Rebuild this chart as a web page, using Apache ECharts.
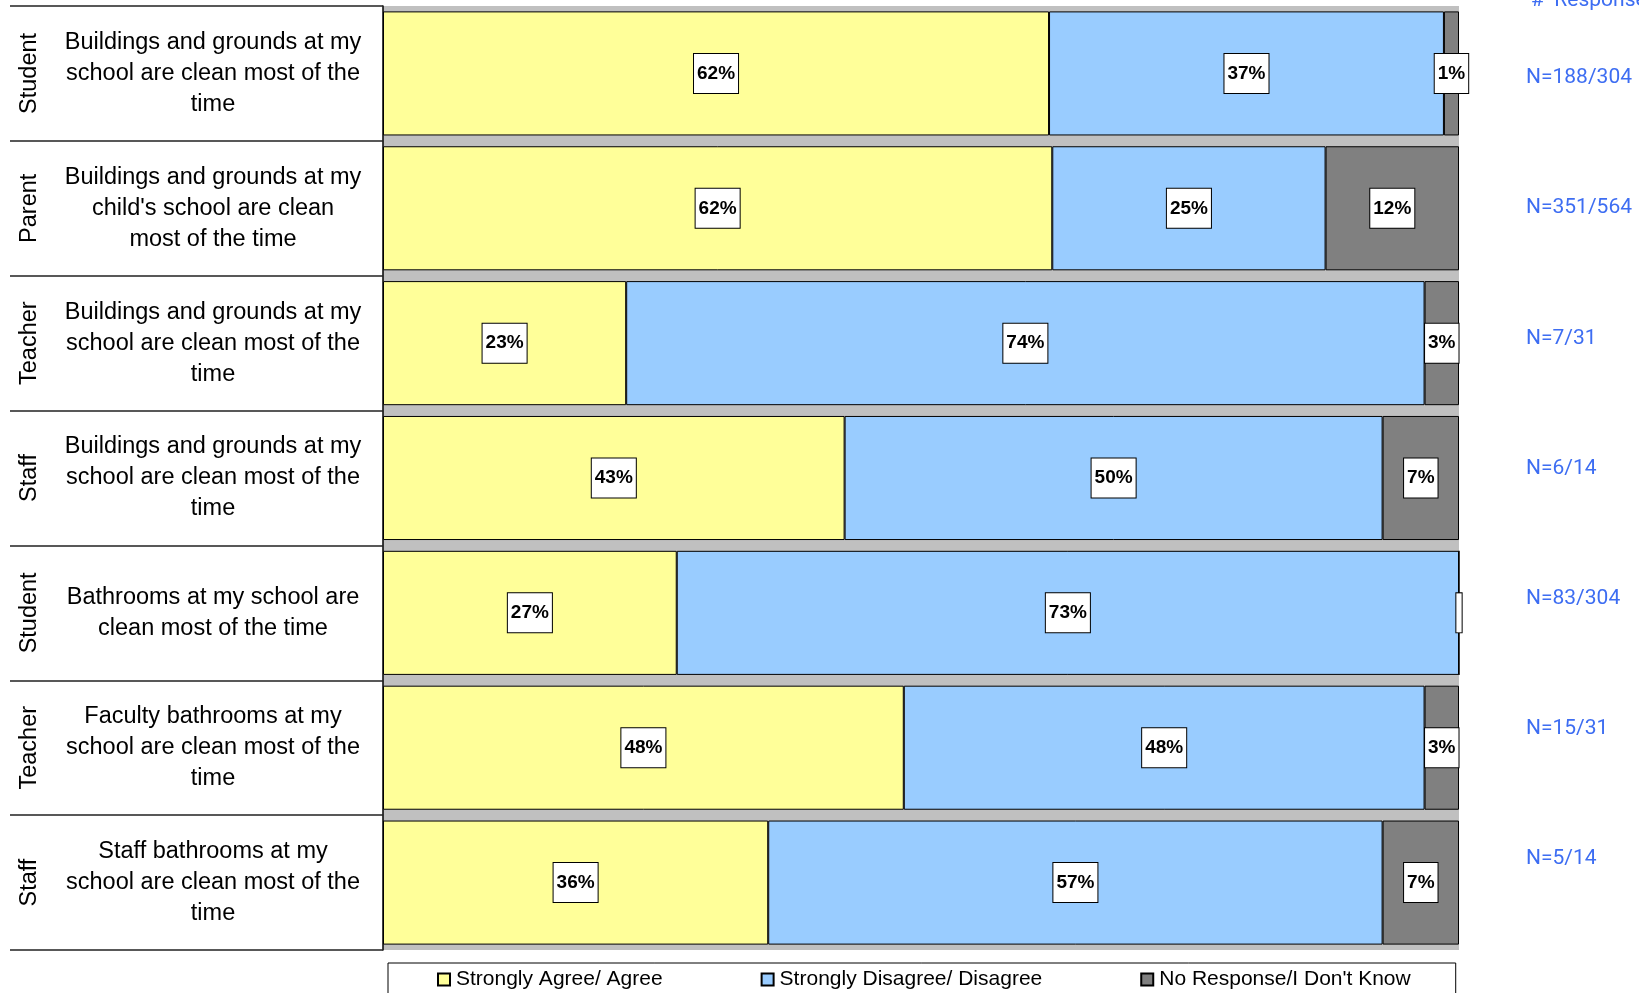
<!DOCTYPE html>
<html>
<head>
<meta charset="utf-8">
<script src="https://cdn.jsdelivr.net/npm/echarts@6/dist/echarts.min.js"></script>
<style>html,body{margin:0;padding:0;background:#fff;}#c{width:1639px;height:993px;}</style>
</head>
<body>
<div id="c"></div>
<script>
const roles = ['Student','Parent','Teacher','Staff','Student','Teacher','Staff'];
const questions = [
  'Buildings and grounds at my\nschool are clean most of the\ntime',
  "Buildings and grounds at my\nchild's school are clean\nmost of the time",
  'Buildings and grounds at my\nschool are clean most of the\ntime',
  'Buildings and grounds at my\nschool are clean most of the\ntime',
  'Bathrooms at my school are\nclean most of the time',
  'Faculty bathrooms at my\nschool are clean most of the\ntime',
  'Staff bathrooms at my\nschool are clean most of the\ntime'
];
const responses = ['N=188/304','N=351/564','N=7/31','N=6/14','N=83/304','N=15/31','N=5/14'];
const seriesNames = ['Strongly Agree/ Agree','Strongly Disagree/ Disagree',"No Response/I Don't Know"];
const agree    = [61.9, 62.2, 22.6, 42.9, 27.3, 48.4, 35.8];
const disagree = [36.7, 25.4, 74.2, 50.0, 72.7, 48.4, 57.1];
const noResp   = [1.4, 12.4, 3.2, 7.1, 0, 3.2, 7.1];
const colors = ['#ffff99','#99ccff','#808080'];

const ids = questions.map((q,i)=>'r'+i);
const blue = '#3d6df2';
const narrow = "Roboto,'Liberation Sans',sans-serif";
const sans = "'Liberation Sans',Arial,sans-serif";

const labelCfg = {
  show: true, position: 'inside',
  formatter: p => p.value === 0 ? ' ' : Math.round(p.value) + '%',
  backgroundColor: '#fff', borderColor: '#000', borderWidth: 1,
  padding: [10, 3], fontWeight: 'bold', fontSize: 19, color: '#000', fontFamily: sans
};
function mk(i, data){
  return {
    name: seriesNames[i], type: 'bar', stack: 'total',
    data: data.map(v => v === 0 ? {value: v, label: {padding: [10, 0, 10, 0]}} : v),
    xAxisIndex: 0, yAxisIndex: 0,
    barCategoryGap: '8%',
    itemStyle: {color: colors[i], borderColor: '#000', borderWidth: 1},
    label: labelCfg
  };
}
const chart = echarts.init(document.getElementById('c'), null, {renderer: 'canvas'});
chart.setOption({
  animation: false,
  title: {
    text: '#  Responses', left: 1526, top: -15,
    textStyle: {color: blue, fontSize: 21, fontWeight: 'normal', fontFamily: narrow}
  },
  grid: [
    {left: 383, right: 180, top: 6, bottom: 43, show: true, backgroundColor: '#c0c0c0', borderWidth: 0},
    {left: 1526, width: 10, top: 13, bottom: 69, show: false}
  ],
  legend: {
    left: 388, top: 963, itemGap: 98, itemWidth: 12, itemHeight: 12,
    padding: [6, 45, 14, 49], borderColor: '#000', borderWidth: 1,
    icon: 'rect',
    textStyle: {fontSize: 21, color: '#000', fontFamily: sans, padding: [0,0,0,1]},
    data: seriesNames
  },
  xAxis: [
    {type: 'value', min: 0, max: 100, show: false, gridIndex: 0},
    {type: 'value', min: 0, max: 1, show: false, gridIndex: 1}
  ],
  yAxis: [
    {
      type: 'category', gridIndex: 0, inverse: true, data: ids,
      axisLine: {show: true, lineStyle: {color: '#000', width: 1.5}},
      axisTick: {show: true, length: 373, lineStyle: {color: '#222', width: 1.5}},
      axisLabel: {
        margin: 170, align: 'center', fontSize: 23.5, lineHeight: 31, color: '#000', fontFamily: sans,
        formatter: (v, i) => questions[i]
      }
    },
    {
      type: 'category', gridIndex: 0, inverse: true, data: ids, position: 'left',
      axisLine: {show: false}, axisTick: {show: false},
      axisLabel: {
        margin: 353, rotate: 90, align: 'center', verticalAlign: 'middle',
        fontSize: 23.5, color: '#000', fontFamily: sans,
        formatter: (v, i) => roles[i]
      }
    },
    {
      type: 'category', gridIndex: 1, inverse: true, data: ids, position: 'left',
      axisLine: {show: false}, axisTick: {show: false},
      axisLabel: {
        margin: 0, align: 'left', fontSize: 21, color: blue, fontFamily: narrow,
        formatter: (v, i) => responses[i]
      }
    }
  ],
  series: [mk(0, agree), mk(1, disagree), mk(2, noResp)]
});
</script>
</body>
</html>
